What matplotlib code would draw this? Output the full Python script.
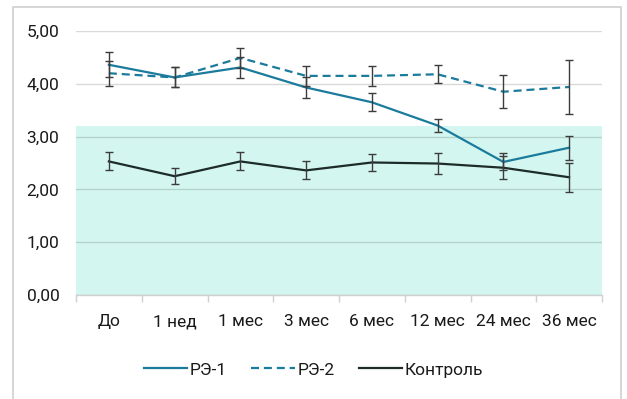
import matplotlib
matplotlib.use("Agg")
import matplotlib.pyplot as plt
from matplotlib.patches import Rectangle
from matplotlib.lines import Line2D

plt.rcParams['font.family'] = ['Roboto', 'DejaVu Sans']

categories = ["До", "1 нед", "1 мес", "3 мес", "6 мес", "12 мес", "24 мес", "36 мес"]

re1_values = [4.36, 4.12, 4.31, 3.93, 3.65, 3.21, 2.52, 2.79]
re1_errors = [0.24, 0.19, 0.20, 0.19, 0.17, 0.12, 0.16, 0.23]

re2_values = [4.20, 4.12, 4.49, 4.15, 4.15, 4.18, 3.85, 3.94]
re2_errors = [0.24, 0.19, 0.19, 0.19, 0.19, 0.17, 0.31, 0.52]

ctrl_values = [2.53, 2.25, 2.53, 2.36, 2.51, 2.49, 2.41, 2.23]
ctrl_errors = [0.17, 0.15, 0.17, 0.17, 0.16, 0.19, 0.22, 0.27]

series_labels = ["РЭ-1", "РЭ-2", "Контроль"]
y_ticks = [0, 1, 2, 3, 4, 5]
y_tick_labels = ["0,00", "1,00", "2,00", "3,00", "4,00", "5,00"]
band_top = 3.2

teal = "#1b7b9c"
dark = "#1d2b29"
err_color = "#3c3c3c"
text_color = "#1a1a1a"
fs = 12.5

fig = plt.figure(figsize=(6.27, 3.99), dpi=100)
fig.patches.append(Rectangle((13 / 627, -0.1), (621 - 13) / 627, 1.1 - 7 / 399,
                             transform=fig.transFigure, fill=False,
                             edgecolor="#d0d0d0", linewidth=1.2))

ax = fig.add_axes([76 / 627, 1 - 295 / 399, (602 - 76) / 627, (295 - 31) / 399])
x = list(range(len(categories)))

ax.axhspan(0, band_top, color="#d3f7f0", zorder=0.2, linewidth=0)

ax.plot(x, re1_values, color=teal, lw=1.6, zorder=2)
ax.plot(x, re2_values, color=teal, lw=1.6, dashes=(3.6, 2.2), zorder=2)
ax.plot(x, ctrl_values, color=dark, lw=1.6, zorder=2)

for vals, errs in ((re1_values, re1_errors), (re2_values, re2_errors),
                   (ctrl_values, ctrl_errors)):
    ax.errorbar(x, vals, yerr=errs, fmt="none", ecolor=err_color,
                elinewidth=1.0, capsize=3.1, capthick=1.0, zorder=3)

ax.set_xlim(-0.5, len(categories) - 0.5)
ax.set_ylim(0, 5)
ax.set_axisbelow(True)
ax.yaxis.grid(True, color="black", alpha=0.15, lw=1.0)
ax.set_yticks(y_ticks)
ax.set_yticklabels(y_tick_labels)
ax.tick_params(axis="y", length=0, pad=12, labelsize=fs, labelcolor=text_color)

ax.set_xticks([i - 0.5 for i in range(len(categories) + 1)])
ax.set_xticklabels([])
ax.set_xticks(x, minor=True)
ax.set_xticklabels(categories, minor=True)
ax.tick_params(axis="x", which="major", length=5, color="#d0d0d0", width=1)
ax.tick_params(axis="x", which="minor", length=0, pad=14, labelsize=fs,
               labelcolor=text_color)

for side in ("left", "right", "top"):
    ax.spines[side].set_visible(False)
ax.spines["bottom"].set_color("#d0d0d0")
ax.spines["bottom"].set_linewidth(1.0)

handles = [
    Line2D([], [], color=teal, lw=1.6),
    Line2D([], [], color=teal, lw=1.6, dashes=(3.6, 2.2)),
    Line2D([], [], color=dark, lw=1.6),
]
fig.legend(handles, series_labels, loc="center", bbox_to_anchor=(0.5, 1 - 370 / 399),
           ncol=3, frameon=False, fontsize=fs, handlelength=2.5,
           handletextpad=0.15, columnspacing=1.4, labelcolor=text_color)

fig.savefig("out.png", dpi=100)
